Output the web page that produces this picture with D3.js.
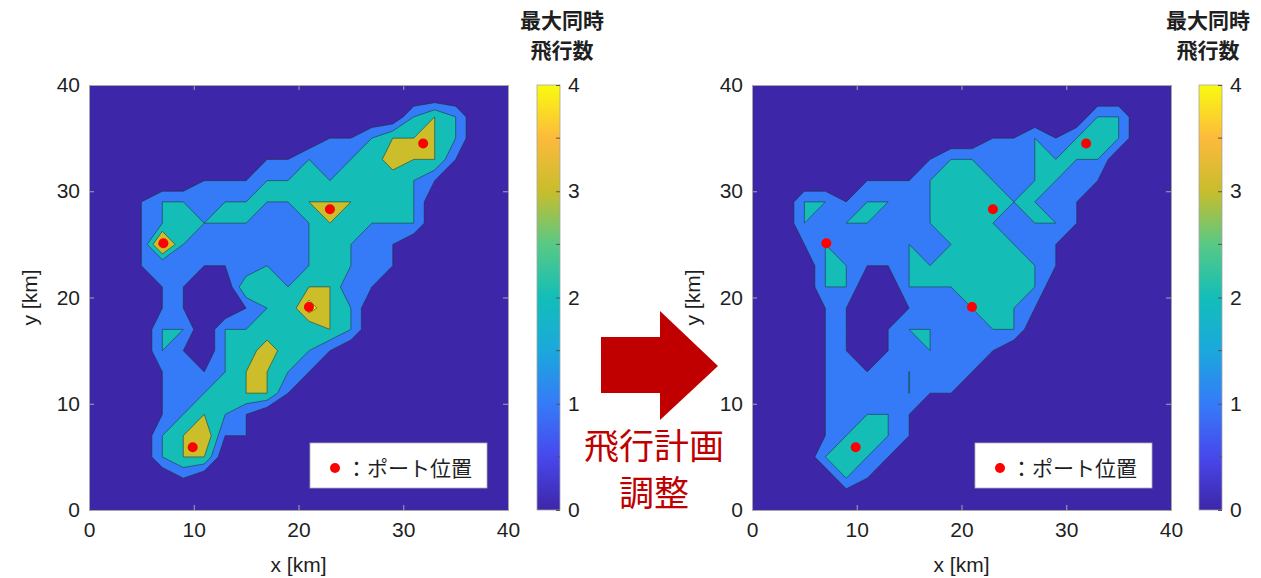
<!DOCTYPE html>
<html>
<head>
<meta charset="utf-8">
<title>最大同時飛行数</title>
<script src="https://d3js.org/d3.v7.min.js"></script>
<style>
body { margin: 0; background: #fff; }
svg text { font-family: "Liberation Sans", "Noto Sans CJK JP", sans-serif; fill: #1f1f1f; }
.jp { font-family: "Noto Sans CJK JP", sans-serif; }
</style>
</head>
<body>
<script>
var width = 1261, height = 578;

// max simultaneous flights on a 2 km grid, nodes at x, y = 1, 3, ..., 39 km
// rows run from y = 39 (top) down to y = 1, columns from x = 1 to x = 39
var gridBefore = [
  [0,0,0,0,0,0,0,0,0,0,0,0,0,0,0,0,0,0,0,0],
  [0,0,0,0,0,0,0,0,0,0,0,0,0,0,0,2,3,2,0,0],
  [0,0,0,0,0,0,0,0,0,0,0,1,1,2,3,3,3,2,0,0],
  [0,0,0,0,0,0,0,0,1,1,2,1,2,2,4,3,3,1,0,0],
  [0,0,0,0,0,1,1,1,2,2,2,2,2,2,2,2,1,0,0,0],
  [0,0,1,2,2,1,2,2,2,2,3,3,3,2,2,2,0,0,0,0],
  [0,0,1,2,2,2,2,2,1,1,2,3,2,2,2,2,0,0,0,0],
  [0,0,1,4.6,2,1,1,1,1,1,2,2,2,1,1,0,0,0,0,0],
  [0,0,1,1,1,1,1,1,2,1,2,2,2,1,1,0,0,0,0,0],
  [0,0,0,1,1,0,0,3,2,2,3,3,1,1,0,0,0,0,0,0],
  [0,0,0,1,1,0,0,1,2,2,4.6,3,2,0,0,0,0,0,0,0],
  [0,0,0,2,2,0,2,2,2,2,2,3,2,0,0,0,0,0,0,0],
  [0,0,0,2,1,0,2,2,4,2,2,1,0,0,0,0,0,0,0,0],
  [0,0,0,1,1,1,2,3,3,2,1,0,0,0,0,0,0,0,0,0],
  [0,0,0,1,1,2,2,3,3,1,0,0,0,0,0,0,0,0,0,0],
  [0,0,0,1,2,3,2,1,0,0,0,0,0,0,0,0,0,0,0,0],
  [0,0,0,2,3,4,1,1,0,0,0,0,0,0,0,0,0,0,0,0],
  [0,0,0,2,3,3,0,0,0,0,0,0,0,0,0,0,0,0,0,0],
  [0,0,0,0,1,0,0,0,0,0,0,0,0,0,0,0,0,0,0,0],
  [0,0,0,0,0,0,0,0,0,0,0,0,0,0,0,0,0,0,0,0]
];

var gridAfter = [
  [0,0,0,0,0,0,0,0,0,0,0,0,0,0,0,0,0,0,0,0],
  [0,0,0,0,0,0,0,0,0,0,0,0,0,0,0,0,2,2,0,0],
  [0,0,0,0,0,0,0,0,0,0,0,1,1,2,1,2,2,2,0,0],
  [0,0,0,0,0,0,0,0,1,2,2,1,1,2,2,2,2,0,0,0],
  [0,0,0,0,0,1,1,1,2,2,2,2,1,2,2,1,1,0,0,0],
  [0,0,2,2,1,2,2,1,2,2,2,2,2,2,1,1,0,0,0,0],
  [0,0,2,1,2,2,1,1,2,2,2,2,1,2,2,1,0,0,0,0],
  [0,0,1,2,1,1,1,2,1,2,2,2,2,1,1,0,0,0,0,0],
  [0,0,0,2,2,1,1,2,2,2,2,2,2,2,1,0,0,0,0,0],
  [0,0,0,2,2,0,0,2,2,2,2,2,2,2,0,0,0,0,0,0],
  [0,0,0,1,1,0,0,1,1,1,2,2,2,1,0,0,0,0,0,0],
  [0,0,0,1,1,0,1,2,2,1,1,2,2,0,0,0,0,0,0,0],
  [0,0,0,1,1,0,1,1,2,1,1,1,0,0,0,0,0,0,0,0],
  [0,0,0,1,1,1,1,2.02,1,1,1,0,0,0,0,0,0,0,0,0],
  [0,0,0,1,1,1,1,2.02,1,1,0,0,0,0,0,0,0,0,0,0],
  [0,0,0,1,1,2,2,1,0,0,0,0,0,0,0,0,0,0,0,0],
  [0,0,0,1,2,2,2,1,0,0,0,0,0,0,0,0,0,0,0,0],
  [0,0,0,2,2,2,1,0,0,0,0,0,0,0,0,0,0,0,0,0],
  [0,0,0,0,2,1,0,0,0,0,0,0,0,0,0,0,0,0,0,0],
  [0,0,0,0,0,0,0,0,0,0,0,0,0,0,0,0,0,0,0,0]
];

// port positions [x, y] in km
var ports = [[7.1, 25.1], [9.9, 5.9], [21.0, 19.1], [23.0, 28.3], [31.9, 34.5]];

var levels = [1, 2, 3, 4];
var bandColors = ["#3e26a8", "#357bf8", "#14bdb6", "#cbbe2a", "#f9fb0e"];
var axisTicks = [0, 10, 20, 30, 40];
var cbarTicks = [0, 1, 2, 3, 4];
var cbarMinor = [0.5, 1.5, 2.5, 3.5];
var cbarTitle = ["最大同時", "飛行数"];
var legendLabel = "：ポート位置";
var arrowLabel = ["飛行計画", "調整"];
var parula = [
  [0, "#3e26a8"], [0.125, "#4748ec"], [0.25, "#357bf8"], [0.375, "#1ba8dc"],
  [0.5, "#12beb8"], [0.625, "#58c985"], [0.75, "#c8bd2c"], [0.875, "#fcba3c"], [1, "#f9fb0e"]
];

var plotTop = 85, plotBottom = 510, plotW = 419;
var panels = [
  {grid: gridBefore, x0: 89, cbarX: 537, titleX: 562, ylabX: 30, legendX: 310},
  {grid: gridAfter, x0: 752, cbarX: 1199, titleX: 1208, ylabX: 693, legendX: 975}
];

var svg = d3.select("body").append("svg")
    .attr("width", width)
    .attr("height", height);

var grad = svg.append("defs").append("linearGradient")
    .attr("id", "parula")
    .attr("x1", 0).attr("y1", 1).attr("x2", 0).attr("y2", 0);
grad.selectAll("stop").data(parula).enter().append("stop")
    .attr("offset", function(d) { return d[0]; })
    .attr("stop-color", function(d) { return d[1]; });

var contours = d3.contours().size([20, 20]).thresholds(levels);

panels.forEach(function(p) {
  var x = d3.scaleLinear().domain([0, 40]).range([p.x0, p.x0 + plotW]);
  var y = d3.scaleLinear().domain([0, 40]).range([plotBottom, plotTop]);
  var g = svg.append("g");

  g.append("rect")
      .attr("x", x(0)).attr("y", y(40))
      .attr("width", x(40) - x(0)).attr("height", y(0) - y(40))
      .attr("fill", bandColors[0]);

  // contour grid coords -> km: node i sits at i + 0.5, i.e. km = 2 * c
  var proj = d3.geoTransform({
    point: function(cx, cy) { this.stream.point(x(2 * cx), y(40 - 2 * cy)); }
  });
  var path = d3.geoPath(proj);
  var values = [].concat.apply([], p.grid);

  g.selectAll("path.band")
      .data(contours(values))
      .enter().append("path")
      .attr("class", "band")
      .attr("d", path)
      .attr("fill", function(d) { return bandColors[levels.indexOf(d.value) + 1]; })
      .attr("stroke", "#1d2a2a")
      .attr("stroke-opacity", 0.75)
      .attr("stroke-width", 0.7)
      .attr("stroke-linejoin", "round");

  g.selectAll("circle.port")
      .data(ports)
      .enter().append("circle")
      .attr("cx", function(d) { return x(d[0]); })
      .attr("cy", function(d) { return y(d[1]); })
      .attr("r", 5)
      .attr("fill", "#ff0000");

  // axes with inward ticks
  var ax = [
    g.append("g").attr("transform", "translate(0," + plotBottom + ")")
        .call(d3.axisBottom(x).tickValues(axisTicks).tickSize(-5).tickPadding(12)),
    g.append("g").attr("transform", "translate(" + p.x0 + ",0)")
        .call(d3.axisLeft(y).tickValues(axisTicks).tickSize(-5).tickPadding(9)),
    g.append("g").attr("transform", "translate(0," + plotTop + ")")
        .call(d3.axisTop(x).tickValues(axisTicks).tickSize(-5).tickFormat("")),
    g.append("g").attr("transform", "translate(" + (p.x0 + plotW) + ",0)")
        .call(d3.axisRight(y).tickValues(axisTicks).tickSize(-5).tickFormat(""))
  ];
  ax.forEach(function(a) {
    a.selectAll("path").attr("stroke", "#a6a6a6");
    a.selectAll("line").attr("stroke", "#a6a6a6");
    a.selectAll("text").style("font-size", "21px").attr("fill", "#1f1f1f");
  });

  g.append("text")
      .attr("x", x(20)).attr("y", 572)
      .attr("text-anchor", "middle")
      .style("font-size", "21px")
      .text("x [km]");
  g.append("text")
      .attr("transform", "translate(" + p.ylabX + "," + y(20) + ") rotate(-90)")
      .attr("text-anchor", "middle")
      .attr("dy", "0.35em")
      .style("font-size", "21px")
      .text("y [km]");

  // legend
  var lg = g.append("g").attr("transform", "translate(" + p.legendX + ",443)");
  lg.append("rect").attr("width", 177).attr("height", 45)
      .attr("fill", "#fff").attr("stroke", "#b0b0b0").attr("stroke-width", 0.8);
  lg.append("circle").attr("cx", 25).attr("cy", 25).attr("r", 5).attr("fill", "#ff0000");
  lg.append("text").attr("class", "jp").attr("x", 36).attr("y", 25).attr("dy", "0.36em")
      .style("font-size", "21px").text(legendLabel);

  // colorbar
  var c = d3.scaleLinear().domain([0, 4]).range([plotBottom, plotTop]);
  var cg = g.append("g");
  cg.append("rect")
      .attr("x", p.cbarX).attr("y", plotTop)
      .attr("width", 23).attr("height", plotBottom - plotTop)
      .attr("fill", "url(#parula)")
      .attr("stroke", "#a6a6a6").attr("stroke-width", 0.8);
  var ca = cg.append("g").attr("transform", "translate(" + (p.cbarX + 23) + ",0)")
      .call(d3.axisRight(c).tickValues(cbarTicks).tickSize(-4).tickPadding(8)
        .tickFormat(d3.format("d")));
  ca.select(".domain").remove();
  ca.selectAll("line").attr("stroke", "#555");
  ca.selectAll("text").style("font-size", "21px").attr("fill", "#1f1f1f");
  cg.selectAll("line.minor").data(cbarMinor).enter().append("line")
      .attr("x1", p.cbarX + 19).attr("x2", p.cbarX + 23)
      .attr("y1", function(d) { return c(d); }).attr("y2", function(d) { return c(d); })
      .attr("stroke", "#555");
  cg.selectAll("text.title").data(cbarTitle).enter().append("text")
      .attr("class", "jp")
      .attr("x", p.titleX)
      .attr("y", function(d, i) { return 21 + i * 30; })
      .attr("dy", "0.35em")
      .attr("text-anchor", "middle")
      .style("font-size", "21px")
      .style("font-weight", "bold")
      .text(function(d) { return d; });
});

// arrow between the panels
svg.append("path")
    .attr("d", "M601,337 L660,337 L660,311 L718,366 L660,420 L660,393 L601,393 Z")
    .attr("fill", "#c00000");
svg.selectAll("text.arrow").data(arrowLabel).enter().append("text")
    .attr("class", "jp")
    .attr("x", 654)
    .attr("y", function(d, i) { return 447 + i * 47; })
    .attr("dy", "0.35em")
    .attr("text-anchor", "middle")
    .style("font-size", "35px")
    .style("fill", "#c00000")
    .text(function(d) { return d; });
</script>
</body>
</html>
